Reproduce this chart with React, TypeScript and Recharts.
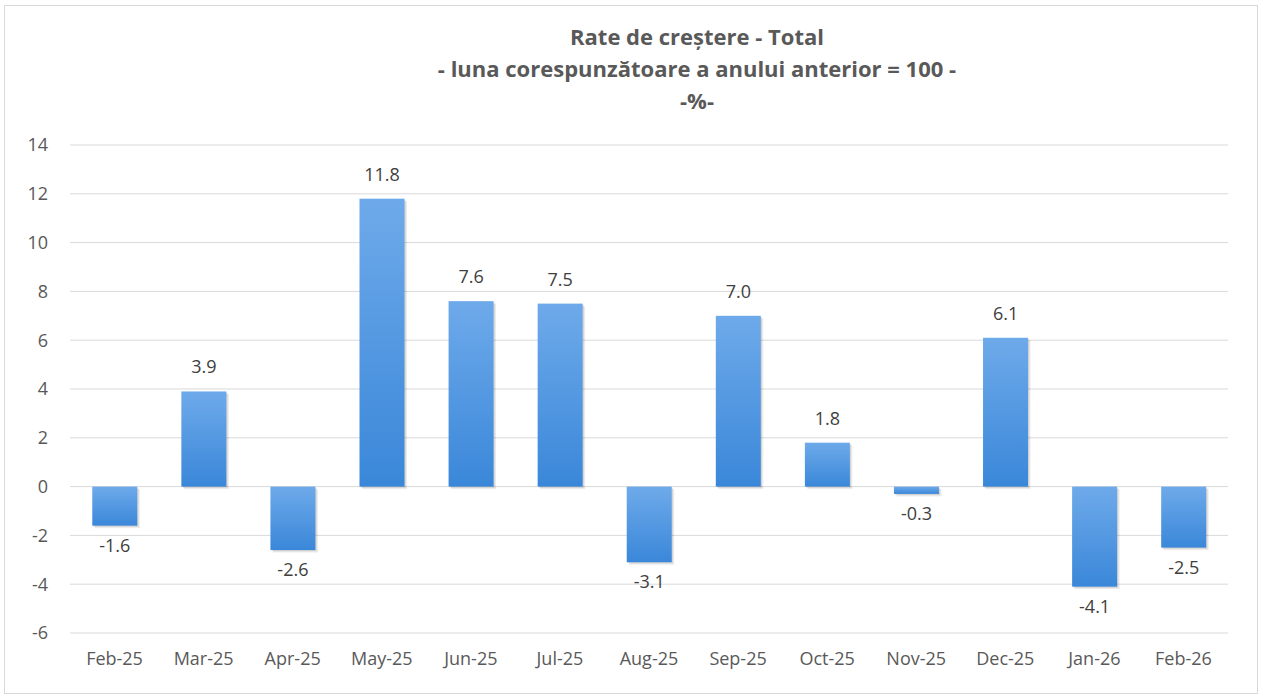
import React from "react";
import { BarChart, Bar, XAxis, YAxis, CartesianGrid, LabelList } from "recharts";

const months = [
  "Feb-25", "Mar-25", "Apr-25", "May-25", "Jun-25", "Jul-25", "Aug-25",
  "Sep-25", "Oct-25", "Nov-25", "Dec-25", "Jan-26", "Feb-26",
];
const growth = [-1.6, 3.9, -2.6, 11.8, 7.6, 7.5, -3.1, 7.0, 1.8, -0.3, 6.1, -4.1, -2.5];
const yTicks = [-6, -4, -2, 0, 2, 4, 6, 8, 10, 12, 14];
const titleLines = [
  "Rate de creștere - Total",
  "- luna corespunzătoare a anului anterior = 100 -",
  "-%-",
];

const data = months.map((m, i) => ({ month: m, rate: growth[i] }));

const FONT = "'Open Sans', sans-serif";
const TEXT = "#595959";

function ValueLabel(props: any) {
  const { x, y, width, height, value } = props;
  const cx = Number(x) + Number(width) / 2;
  const v = Number(value);
  const top = Math.min(Number(y), Number(y) + Number(height));
  const bottom = Math.max(Number(y), Number(y) + Number(height));
  return (
    <text
      x={cx}
      y={v < 0 ? bottom + 19 : top - 25}
      textAnchor="middle"
      dominantBaseline="central"
      fontFamily={FONT}
      fontSize={18}
      fill="#404040"
    >
      {v.toFixed(1)}
    </text>
  );
}

// gradient fill plus a soft offset shadow, like the spreadsheet original
function ShadowBar(props: any) {
  const { x, y, width, height, index } = props;
  const top = Math.min(Number(y), Number(y) + Number(height));
  const h = Math.abs(Number(height));
  const id = `barfill-${index}`;
  return (
    <g>
      <defs>
        <linearGradient id={id} x1="0" y1="0" x2="0" y2="1">
          <stop offset="0%" stopColor="#6eaaea" />
          <stop offset="100%" stopColor="#3a87d9" />
        </linearGradient>
      </defs>
      <rect x={x + 2.5} y={top + 2.5} width={width} height={h} fill="#000" fillOpacity={0.08} />
      <rect x={x + 1.2} y={top + 1.2} width={width} height={h} fill="#000" fillOpacity={0.1} />
      <rect x={x} y={top} width={width} height={h} fill={`url(#${id})`} />
    </g>
  );
}

export default function App() {
  return (
    <div style={{ position: "fixed", left: 0, top: 0, width: 1269, height: 700, background: "#fff" }}>
      <div
        style={{
          position: "absolute",
          left: 4,
          top: 5,
          width: 1252,
          height: 687,
          border: "1px solid #d9d9d9",
        }}
      />
      <div
        style={{
          position: "absolute",
          left: 297,
          top: 20,
          width: 800,
          textAlign: "center",
          fontFamily: FONT,
          fontWeight: 700,
          fontSize: 22,
          lineHeight: "32px",
          color: TEXT,
          zIndex: 1,
        }}
      >
        {titleLines.map((t) => (
          <div key={t}>{t}</div>
        ))}
      </div>
      <div style={{ position: "absolute", left: 0, top: 0 }}>
        <BarChart
          width={1269}
          height={700}
          data={data}
          margin={{ top: 145, right: 41, bottom: 0, left: 10 }}
          barCategoryGap="25%"
        >
          <CartesianGrid stroke="#d9d9d9" vertical={false} />
          <XAxis
            dataKey="month"
            axisLine={false}
            tickLine={false}
            tickSize={0}
            tickMargin={19}
            height={67}
            interval={0}
            tick={{ fill: TEXT, fontSize: 18, fontFamily: FONT }}
          />
          <YAxis
            domain={[-6, 14]}
            ticks={yTicks}
            axisLine={false}
            tickLine={false}
            tickSize={0}
            tickMargin={22}
            width={60}
            tick={{ fill: TEXT, fontSize: 18, fontFamily: FONT }}
          />
          <Bar dataKey="rate" fill="#4a93e0" shape={ShadowBar} isAnimationActive={false}>
            <LabelList dataKey="rate" content={ValueLabel} />
          </Bar>
        </BarChart>
      </div>
    </div>
  );
}
